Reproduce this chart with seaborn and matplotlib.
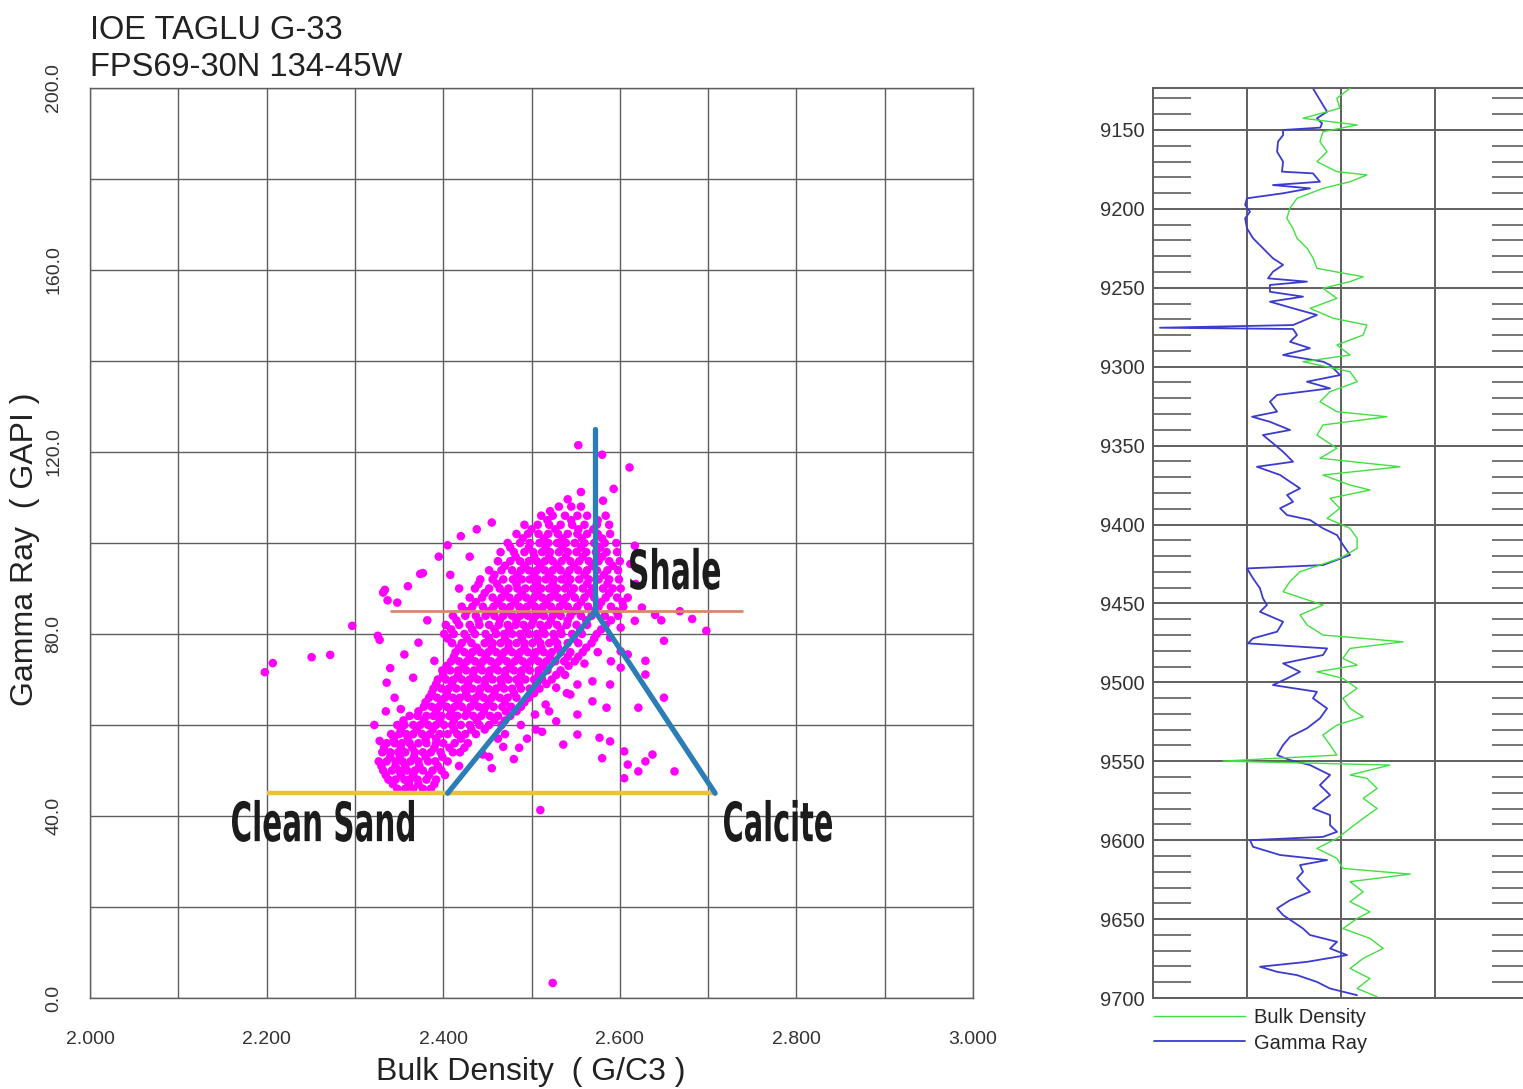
"""
IOE Taglu G-33 - density / gamma ray crossplot with log track
"""

import pandas as pd
import matplotlib
matplotlib.use("Agg")
import matplotlib.pyplot as plt
import matplotlib.transforms as mtransforms
from matplotlib.ticker import FixedLocator, MultipleLocator
from matplotlib.textpath import TextPath
from matplotlib.patches import PathPatch
from matplotlib.font_manager import FontProperties
import seaborn as sns

sns.set_style("white")
plt.rcParams["font.family"] = ["Liberation Sans", "DejaVu Sans"]

# ============================================================
# DATA
# ============================================================
title_lines = ["IOE TAGLU G-33", "FPS69-30N 134-45W"]

rhob_ticks = [2.0, 2.2, 2.4, 2.6, 2.8, 3.0]
rhob_tick_labels = ["2.000", "2.200", "2.400", "2.600", "2.800", "3.000"]
gr_ticks = [0, 40, 80, 120, 160, 200]
gr_tick_labels = ["0.0", "40.0", "80.0", "120.0", "160.0", "200.0"]

# dense part of the crossplot cloud, density readings per GR level
row_gr = [46, 48, 50, 52, 54, 56, 58, 60, 62, 64, 66, 68, 70, 72, 74, 76,
          78, 80, 82, 84, 86, 88, 90, 92, 94, 96, 98, 100, 102, 104, 106, 108]
row_rhob = [
    [2.348, 2.357, 2.366, 2.377, 2.386],
    [2.338, 2.346, 2.356, 2.362, 2.371, 2.381, 2.392],
    [2.332, 2.342, 2.350, 2.359, 2.368, 2.377, 2.388, 2.398],
    [2.327, 2.336, 2.346, 2.354, 2.363, 2.372, 2.383, 2.391, 2.405],
    [2.331, 2.340, 2.349, 2.357, 2.368, 2.377, 2.386, 2.397, 2.411, 2.419],
    [2.336, 2.345, 2.353, 2.362, 2.372, 2.381, 2.392, 2.400, 2.413, 2.428],
    [2.341, 2.350, 2.358, 2.366, 2.376, 2.385, 2.396, 2.405, 2.416, 2.425, 2.437],
    [2.348, 2.356, 2.366, 2.374, 2.383, 2.392, 2.401, 2.410, 2.420, 2.430, 2.441, 2.452, 2.466],
    [2.362, 2.371, 2.381, 2.389, 2.398, 2.407, 2.416, 2.425, 2.434, 2.443, 2.453, 2.462, 2.476],
    [2.378, 2.387, 2.395, 2.404, 2.413, 2.421, 2.431, 2.440, 2.448, 2.457, 2.467, 2.477, 2.488],
    [2.384, 2.393, 2.402, 2.411, 2.419, 2.428, 2.437, 2.446, 2.455, 2.464, 2.473, 2.483, 2.497],
    [2.389, 2.398, 2.406, 2.415, 2.424, 2.433, 2.442, 2.451, 2.460, 2.469, 2.478, 2.488, 2.498, 2.509],
    [2.394, 2.403, 2.412, 2.421, 2.430, 2.439, 2.448, 2.456, 2.465, 2.474, 2.483, 2.493, 2.503, 2.512, 2.523],
    [2.399, 2.408, 2.417, 2.426, 2.435, 2.444, 2.453, 2.462, 2.471, 2.480, 2.489, 2.498, 2.508, 2.518, 2.533],
    [2.409, 2.418, 2.427, 2.436, 2.445, 2.454, 2.463, 2.472, 2.481, 2.490, 2.499, 2.508, 2.517, 2.527, 2.537, 2.549],
    [2.414, 2.424, 2.433, 2.442, 2.451, 2.460, 2.469, 2.478, 2.487, 2.496, 2.505, 2.514, 2.523, 2.533, 2.544, 2.558],
    [2.410, 2.421, 2.432, 2.447, 2.456, 2.465, 2.474, 2.483, 2.492, 2.501, 2.510, 2.520, 2.529, 2.541, 2.553, 2.568],
    [2.401, 2.412, 2.424, 2.436, 2.448, 2.460, 2.469, 2.478, 2.487, 2.497, 2.506, 2.515, 2.525, 2.534, 2.546, 2.557, 2.574],
    [2.403, 2.418, 2.430, 2.441, 2.452, 2.463, 2.473, 2.482, 2.491, 2.500, 2.510, 2.519, 2.529, 2.540, 2.551, 2.563, 2.584],
    [2.411, 2.425, 2.437, 2.448, 2.458, 2.468, 2.478, 2.487, 2.496, 2.505, 2.514, 2.524, 2.533, 2.544, 2.556, 2.568, 2.583, 2.598],
    [2.421, 2.433, 2.445, 2.457, 2.467, 2.476, 2.486, 2.495, 2.504, 2.513, 2.522, 2.532, 2.541, 2.552, 2.564, 2.576, 2.590, 2.604],
    [2.430, 2.444, 2.456, 2.466, 2.475, 2.485, 2.494, 2.503, 2.512, 2.521, 2.530, 2.539, 2.549, 2.560, 2.571, 2.584, 2.597, 2.609],
    [2.418, 2.436, 2.452, 2.464, 2.474, 2.484, 2.493, 2.502, 2.511, 2.520, 2.529, 2.538, 2.548, 2.558, 2.569, 2.581, 2.592, 2.601],
    [2.442, 2.456, 2.468, 2.479, 2.489, 2.498, 2.507, 2.516, 2.525, 2.534, 2.544, 2.554, 2.565, 2.576, 2.588, 2.599],
    [2.452, 2.466, 2.478, 2.488, 2.497, 2.506, 2.515, 2.524, 2.533, 2.543, 2.553, 2.563, 2.574, 2.586, 2.598],
    [2.462, 2.476, 2.487, 2.497, 2.506, 2.515, 2.524, 2.534, 2.544, 2.554, 2.565, 2.576, 2.588, 2.600],
    [2.465, 2.480, 2.492, 2.502, 2.512, 2.521, 2.531, 2.541, 2.551, 2.562, 2.573, 2.585, 2.597],
    [2.473, 2.487, 2.498, 2.509, 2.519, 2.529, 2.539, 2.549, 2.560, 2.571, 2.583, 2.596],
    [2.483, 2.496, 2.508, 2.519, 2.530, 2.541, 2.552, 2.563, 2.575, 2.589],
    [2.492, 2.507, 2.520, 2.533, 2.546, 2.560, 2.574, 2.588],
    [2.511, 2.524, 2.538, 2.552, 2.563, 2.584],
    [2.531, 2.545, 2.556],
]

# in-between readings (odd GR levels), more irregular
row_gr_b = [47, 49, 51, 53, 55, 57, 59, 61, 63, 65, 67, 69, 71, 73, 75, 77,
            79, 81, 83, 85, 87, 89, 91, 93, 95, 97, 99, 101, 103, 105]
row_rhob_b = [
    [2.343, 2.361, 2.372, 2.390],
    [2.335, 2.352, 2.366, 2.384, 2.402],
    [2.330, 2.346, 2.357, 2.373, 2.394, 2.418],
    [2.340, 2.351, 2.367, 2.380, 2.399, 2.452],
    [2.333, 2.352, 2.365, 2.390, 2.407, 2.424, 2.486],
    [2.344, 2.360, 2.380, 2.392, 2.420, 2.462],
    [2.352, 2.370, 2.388, 2.412, 2.432, 2.447, 2.505],
    [2.355, 2.378, 2.396, 2.412, 2.438, 2.458, 2.470],
    [2.372, 2.392, 2.409, 2.427, 2.446, 2.471, 2.483, 2.520],
    [2.380, 2.398, 2.417, 2.435, 2.452, 2.470, 2.492],
    [2.387, 2.404, 2.426, 2.441, 2.458, 2.480, 2.503, 2.540],
    [2.392, 2.410, 2.428, 2.447, 2.466, 2.486, 2.506, 2.517],
    [2.400, 2.417, 2.434, 2.452, 2.470, 2.488, 2.508, 2.528],
    [2.404, 2.423, 2.442, 2.459, 2.476, 2.494, 2.513, 2.542],
    [2.412, 2.430, 2.448, 2.466, 2.485, 2.503, 2.521, 2.541, 2.553],
    [2.418, 2.438, 2.455, 2.474, 2.492, 2.511, 2.530, 2.562],
    [2.405, 2.427, 2.452, 2.470, 2.489, 2.507, 2.526, 2.548, 2.571],
    [2.409, 2.433, 2.458, 2.475, 2.494, 2.513, 2.533, 2.555, 2.579],
    [2.415, 2.440, 2.464, 2.483, 2.502, 2.522, 2.541, 2.562, 2.590],
    [2.427, 2.452, 2.472, 2.491, 2.510, 2.528, 2.548, 2.570, 2.596],
    [2.437, 2.462, 2.481, 2.500, 2.517, 2.536, 2.556, 2.579, 2.603],
    [2.447, 2.470, 2.489, 2.507, 2.526, 2.545, 2.565, 2.588],
    [2.440, 2.461, 2.483, 2.506, 2.524, 2.541, 2.563, 2.586],
    [2.458, 2.484, 2.503, 2.520, 2.540, 2.560, 2.582],
    [2.470, 2.492, 2.510, 2.529, 2.548, 2.569, 2.592],
    [2.482, 2.503, 2.520, 2.539, 2.558, 2.580],
    [2.476, 2.497, 2.516, 2.535, 2.556, 2.578],
    [2.490, 2.514, 2.535, 2.557, 2.580],
    [2.500, 2.527, 2.553, 2.570],
    [2.518, 2.545, 2.575],
]

# scattered samples around the cloud
halo_rhob = [2.198, 2.207, 2.251, 2.272, 2.297, 2.334, 2.328, 2.326, 2.337, 2.348,
             2.374, 2.332, 2.377, 2.408, 2.372, 2.366, 2.390, 2.336, 2.345, 2.352,
             2.510, 2.524, 2.553, 2.580, 2.611, 2.556, 2.593, 2.581, 2.541, 2.521,
             2.617, 2.612, 2.618, 2.625, 2.617, 2.640, 2.682, 2.698, 2.650, 2.629,
             2.629, 2.650, 2.621, 2.589, 2.585, 2.569, 2.552, 2.536, 2.552, 2.577,
             2.589, 2.580, 2.605, 2.609, 2.629, 2.637, 2.605, 2.621, 2.662, 2.552,
             2.528, 2.516, 2.528, 2.504, 2.544, 2.569, 2.601, 2.609, 2.601, 2.589,
             2.601, 2.590, 2.575, 2.560, 2.538, 2.495, 2.480, 2.468, 2.455, 2.445,
             2.488, 2.512, 2.470, 2.322, 2.328, 2.335, 2.340, 2.356, 2.382, 2.360,
             2.395, 2.405, 2.420, 2.438, 2.455, 2.430, 2.647, 2.668]
halo_gr = [71.6, 73.6, 74.9, 75.4, 81.8, 89.7, 78.7, 79.6, 87.4, 86.9,
           93.2, 89.1, 93.4, 93.0, 78.1, 70.4, 74.1, 69.3, 66.0, 63.5,
           41.3, 3.3, 121.5, 119.4, 116.6, 111.2, 111.9, 109.3, 109.6, 107.0,
           99.4, 95.4, 91.0, 85.8, 82.9, 84.2, 83.3, 80.7, 78.5, 74.1,
           71.1, 66.0, 63.8, 68.9, 63.8, 65.2, 62.3, 55.7, 57.9, 57.2,
           56.4, 52.7, 54.2, 51.3, 52.0, 53.5, 48.3, 49.8, 49.8, 68.9,
           68.2, 64.5, 60.8, 62.3, 66.7, 69.6, 72.6, 75.5, 81.4, 79.2,
           76.2, 74.0, 76.0, 73.5, 71.0, 57.0, 52.5, 55.2, 50.5, 53.5,
           60.0, 58.5, 58.0, 60.0, 56.5, 63.0, 72.5, 75.5, 83.0, 90.5,
           97.0, 99.5, 101.5, 103.0, 104.5, 97.0, 83.0, 85.0]

# lithology triangle: clean sand, shale, calcite end points
clean_sand = (2.405, 45.0)
shale = (2.572, 85.0)
calcite = (2.708, 45.0)
shale_top_gr = 125.0
sand_line_rhob = [2.200, 2.708]
sand_line_gr = [45.0, 45.0]
shale_line_rhob = [2.340, 2.739]
shale_line_gr = [85.0, 85.0]

# log track (depth in ft)
gr_depth = [9123.6, 9127.8, 9134.2, 9138.4, 9142.6, 9145.8, 9148.5, 9150.0, 9153.2, 9157.4,
            9163.8, 9170.1, 9176.4, 9177.5, 9182.8, 9184.9, 9187.0, 9190.1, 9193.3, 9197.5,
            9201.8, 9206.0, 9212.3, 9218.6, 9225.0, 9231.3, 9235.5, 9239.8, 9244.0, 9246.1,
            9248.2, 9252.5, 9255.6, 9258.8, 9263.0, 9267.2, 9273.6, 9275.3, 9276.1, 9279.9,
            9284.2, 9288.3, 9292.6, 9296.8, 9298.9, 9305.3, 9309.5, 9313.7, 9317.9, 9322.2,
            9328.5, 9331.7, 9334.9, 9340.1, 9343.3, 9348.5, 9353.9, 9360.2, 9363.4, 9368.6,
            9372.9, 9377.1, 9381.3, 9385.6, 9389.7, 9394.0, 9397.1, 9402.4, 9406.7, 9413.0,
            9419.3, 9425.7, 9427.8, 9434.1, 9440.4, 9446.8, 9451.0, 9455.3, 9461.6, 9467.9,
            9472.1, 9475.3, 9478.5, 9482.7, 9488.0, 9493.3, 9497.5, 9501.7, 9506.0, 9510.1,
            9516.5, 9522.8, 9529.1, 9534.5, 9539.7, 9546.1, 9549.2, 9552.4, 9558.7, 9565.1,
            9571.4, 9579.9, 9584.1, 9590.5, 9594.7, 9597.9, 9600.0, 9604.2, 9609.4, 9612.6,
            9615.8, 9620.0, 9624.2, 9628.5, 9632.7, 9638.0, 9643.2, 9647.5, 9651.7, 9656.0,
            9660.1, 9664.4, 9668.6, 9672.8, 9677.1, 9680.2, 9683.4, 9685.5, 9689.8, 9694.0,
            9698.2]
gr_log = [85.1, 87.2, 90.4, 92.6, 87.2, 89.9, 89.0, 69.2, 69.2, 66.5,
          66.0, 69.2, 68.6, 85.1, 88.8, 63.8, 83.5, 69.2, 50.0, 49.0,
          51.6, 49.0, 50.0, 53.2, 58.5, 63.8, 69.2, 63.8, 61.2, 81.9,
          62.2, 62.2, 79.8, 62.2, 74.5, 87.2, 74.5, 3.7, 74.5, 76.6,
          72.9, 83.5, 69.2, 90.4, 94.2, 99.5, 81.9, 94.2, 66.0, 62.2,
          66.0, 52.7, 62.2, 72.9, 58.5, 63.8, 69.2, 74.5, 55.3, 67.6,
          72.9, 78.2, 71.3, 74.5, 67.6, 71.3, 83.5, 90.4, 97.9, 101.1,
          104.8, 90.4, 50.0, 53.2, 56.9, 58.5, 60.6, 56.9, 69.2, 66.0,
          53.2, 50.5, 92.6, 90.4, 69.2, 78.2, 71.3, 63.8, 87.2, 85.1,
          92.6, 88.8, 81.9, 72.9, 69.2, 66.0, 72.9, 83.5, 94.2, 88.8,
          94.2, 85.1, 94.2, 94.2, 97.9, 90.4, 51.6, 53.2, 67.6, 92.6,
          78.2, 79.8, 76.6, 79.8, 83.5, 72.9, 66.0, 69.2, 74.5, 79.8,
          83.5, 97.9, 94.2, 103.2, 81.9, 56.9, 66.0, 76.6, 87.2, 94.2,
          108.5]

rhob_depth = [9123.6, 9129.9, 9136.2, 9142.6, 9146.8, 9151.1, 9157.4, 9163.8, 9170.1, 9176.4,
              9178.5, 9182.8, 9187.0, 9193.3, 9199.6, 9206.0, 9212.3, 9218.6, 9225.0, 9231.3,
              9237.7, 9243.0, 9246.1, 9250.3, 9256.7, 9263.0, 9269.3, 9273.6, 9279.9, 9286.2,
              9292.6, 9296.8, 9303.2, 9309.5, 9315.8, 9322.2, 9328.5, 9331.7, 9336.9, 9343.3,
              9351.7, 9358.0, 9363.4, 9368.6, 9375.0, 9378.1, 9383.4, 9389.7, 9396.1, 9402.4,
              9408.8, 9415.1, 9421.4, 9429.9, 9436.2, 9442.6, 9451.0, 9457.3, 9463.7, 9470.0,
              9474.3, 9478.5, 9484.8, 9489.1, 9493.3, 9497.5, 9503.8, 9510.1, 9516.5, 9521.8,
              9527.1, 9533.4, 9539.7, 9546.1, 9549.9, 9552.4, 9558.7, 9560.8, 9567.2, 9573.5,
              9579.9, 9586.2, 9592.5, 9598.9, 9605.2, 9611.5, 9617.9, 9621.5, 9626.3, 9632.7,
              9639.0, 9645.4, 9649.6, 9656.0, 9662.2, 9668.6, 9674.9, 9681.3, 9687.6, 9694.0,
              9699.2]
rhob_log = [2.524, 2.489, 2.497, 2.399, 2.543, 2.452, 2.444, 2.463, 2.436, 2.489,
            2.569, 2.524, 2.452, 2.383, 2.364, 2.356, 2.372, 2.383, 2.410, 2.426,
            2.436, 2.559, 2.524, 2.452, 2.489, 2.418, 2.479, 2.569, 2.559, 2.489,
            2.524, 2.399, 2.524, 2.543, 2.471, 2.444, 2.489, 2.622, 2.452, 2.436,
            2.489, 2.444, 2.657, 2.452, 2.524, 2.577, 2.471, 2.497, 2.463, 2.524,
            2.543, 2.543, 2.497, 2.391, 2.364, 2.346, 2.452, 2.391, 2.410, 2.452,
            2.665, 2.524, 2.505, 2.543, 2.436, 2.505, 2.543, 2.505, 2.524, 2.559,
            2.489, 2.452, 2.471, 2.489, 2.186, 2.630, 2.524, 2.569, 2.596, 2.559,
            2.596, 2.559, 2.524, 2.489, 2.436, 2.489, 2.505, 2.684, 2.524, 2.559,
            2.524, 2.577, 2.543, 2.505, 2.577, 2.612, 2.559, 2.524, 2.577, 2.543,
            2.596]

depth_ticks = [9150, 9200, 9250, 9300, 9350, 9400, 9450, 9500, 9550, 9600, 9650, 9700]

# ============================================================
# BUILD TABLES
# ============================================================
pts = [(r, g) for g, row in zip(row_gr, row_rhob) for r in row]
pts += [(r, g) for g, row in zip(row_gr_b, row_rhob_b) for r in row]
pts += list(zip(halo_rhob, halo_gr))
cloud = pd.DataFrame(pts, columns=["rhob", "gr"])
gr_df = pd.DataFrame({"depth": gr_depth, "gr": gr_log})
rhob_df = pd.DataFrame({"depth": rhob_depth, "rhob": rhob_log})

GRID = "#5e5e5e"
W, H = 1523, 1089

fig = plt.figure(figsize=(W / 100, H / 100), dpi=100)
ax = fig.add_axes([90 / W, 91 / H, 883 / W, 910 / H])
trk = fig.add_axes([1153 / W, 91 / H, 376 / W, 910 / H])


def marker_text(ax, x, y, s, width_px, height_px):
    """Bold label squeezed into a given pixel box, lower-left corner at data (x, y)."""
    tp = TextPath((0, 0), s, size=100, prop=FontProperties(family="DejaVu Sans", weight="bold"))
    bb = tp.get_extents()
    tf = (mtransforms.Affine2D().translate(-bb.x0, -bb.y0)
          .scale(width_px / bb.width, height_px / bb.height)
          + mtransforms.ScaledTranslation(x, y, ax.transData))
    ax.add_patch(PathPatch(tp, transform=tf, facecolor="#1c1c1c", edgecolor="none",
                           zorder=6, clip_on=False))


# ============================================================
# CROSSPLOT
# ============================================================
sns.scatterplot(data=cloud, x="rhob", y="gr", color="#ff00ff", s=38,
                edgecolor="none", linewidth=0, ax=ax, zorder=3)

ax.plot(sand_line_rhob, sand_line_gr, color="#e9c23c", lw=3.2, zorder=4,
        solid_capstyle="butt")
ax.plot(shale_line_rhob, shale_line_gr, color="#d8876c", lw=2.0, zorder=4,
        solid_capstyle="butt")
tri_color = "#2b7db8"
ax.plot([shale[0], shale[0]], [shale[1], shale_top_gr], color=tri_color, lw=3.8, zorder=5)
ax.plot([clean_sand[0], shale[0], calcite[0]], [clean_sand[1], shale[1], calcite[1]],
        color=tri_color, lw=3.8, zorder=5, solid_joinstyle="miter")

marker_text(ax, 2.6116, 89.7, "Shale", 90, 42)
marker_text(ax, 2.1608, 34.3, "Clean Sand", 182, 42)
marker_text(ax, 2.718, 34.3, "Calcite", 108, 42)

ax.set_xlim(2.0, 3.0)
ax.set_ylim(0, 200)
ax.xaxis.set_major_locator(FixedLocator(rhob_ticks))
ax.set_xticklabels(rhob_tick_labels)
ax.xaxis.set_minor_locator(MultipleLocator(0.1))
ax.yaxis.set_major_locator(FixedLocator(gr_ticks))
ax.set_yticklabels(gr_tick_labels, rotation=90, va="center")
ax.yaxis.set_minor_locator(MultipleLocator(20))
ax.grid(True, which="both", color=GRID, lw=1.0)
ax.set_axisbelow(True)
ax.tick_params(which="both", length=0, labelsize=14, colors="#333333")
ax.tick_params(axis="x", pad=24)
ax.tick_params(axis="y", pad=20)
for sp in ax.spines.values():
    sp.set_color(GRID)
    sp.set_linewidth(1.0)

ax.set_xlabel("Bulk Density  ( G/C3 )", fontsize=23, color="#222222")
ax.set_ylabel("Gamma Ray  ( GAPI )", fontsize=23, color="#222222")
ax.xaxis.set_label_coords(0.4994, (998 - 1072) / 910)
ax.xaxis.label.set_va("center")
ax.yaxis.set_label_coords((25 - 90) / 883, 0.493)
ax.yaxis.label.set_va("center")

fig.text(90 / W, 1 - 39 / H, title_lines[0], fontsize=23.5, color="#222222",
         ha="left", va="baseline")
fig.text(90 / W, 1 - 76 / H, title_lines[1], fontsize=23.5, color="#222222",
         ha="left", va="baseline")

# ============================================================
# LOG TRACK
# ============================================================
sns.lineplot(data=gr_df, x="gr", y="depth", sort=False, estimator=None,
             color="#3b3bd0", lw=1.3, ax=trk, legend=False)
trk.set_xlim(0, 200)
trk.set_ylim(9700, 9123.4)
trk.xaxis.set_major_locator(FixedLocator([50, 100, 150]))
trk.yaxis.set_major_locator(FixedLocator(depth_ticks))
trk.yaxis.set_minor_locator(MultipleLocator(10))
trk.grid(True, which="major", color=GRID, lw=1.4)
trk.tick_params(axis="x", which="both", length=0, labelbottom=False)
trk.tick_params(axis="y", which="major", length=0, pad=6, labelsize=14.5,
                colors="#333333")
trk.tick_params(axis="y", which="minor", direction="in", length=27, width=1.2,
                color=GRID, left=True, right=True)
trk.set_xlabel("")
trk.set_ylabel("")
for name, sp in trk.spines.items():
    sp.set_color(GRID)
    sp.set_linewidth(1.4)
trk.spines["right"].set_visible(False)

den = trk.twiny()
sns.lineplot(data=rhob_df, x="rhob", y="depth", sort=False, estimator=None,
             color="#3fe03f", lw=1.0, ax=den, legend=False)
den.set_xlim(2.0, 3.0)
den.set_ylim(9700, 9123.4)
den.tick_params(axis="x", which="both", length=0, labeltop=False, top=False)
den.set_xlabel("")
den.set_ylabel("")
den.grid(False)
for sp in den.spines.values():
    sp.set_visible(False)

trk.legend(handles=[den.lines[0], trk.lines[0]], labels=["Bulk Density", "Gamma Ray"],
           loc="upper left", bbox_to_anchor=(0.003, -0.0115), borderaxespad=0,
           borderpad=0, frameon=False, fontsize=14.5, handlelength=4.5,
           handletextpad=0.45, labelspacing=0.3)

fig.savefig("out.png", dpi=100)
print("saved", len(cloud), "points")
